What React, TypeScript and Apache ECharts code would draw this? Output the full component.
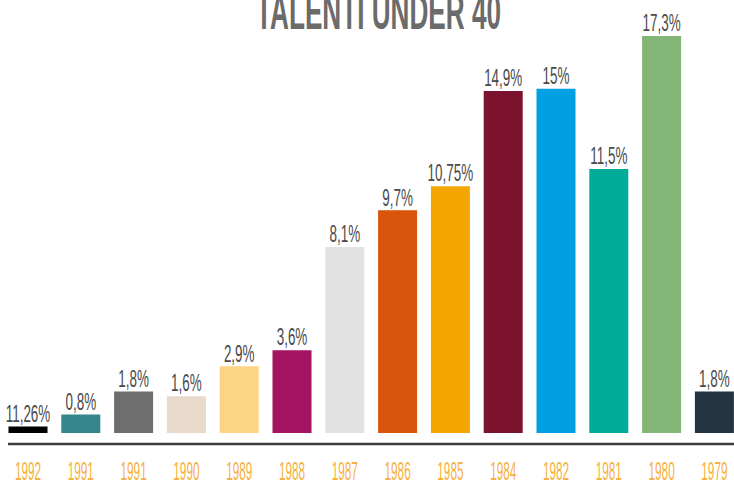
import React, { useEffect, useRef } from "react";
import * as echarts from "echarts";

const years = ["1992", "1991", "1991", "1990", "1989", "1988", "1987", "1986", "1985", "1984", "1982", "1981", "1980", "1979"];
const values = [0.28, 0.8, 1.8, 1.6, 2.9, 3.6, 8.1, 9.7, 10.75, 14.9, 15, 11.5, 17.3, 1.8];
const valueLabels = ["11,26%", "0,8%", "1,8%", "1,6%", "2,9%", "3,6%", "8,1%", "9,7%", "10,75%", "14,9%", "15%", "11,5%", "17,3%", "1,8%"];
const barColors = ["#000000", "#34868c", "#6e6e6e", "#e9d9cb", "#fdd384", "#a31463", "#e2e2e2", "#d8550b", "#f4a600", "#7b132f", "#00a0e2", "#00ac97", "#83b577", "#233442"];
const titleText = "TALENTI UNDER 40";

// inner chart canvas is offset by OY px upward so the cropped layout of the reference can be reproduced
const OY = 20;

export default function App() {
  const ref = useRef<HTMLDivElement>(null);
  useEffect(() => {
    if (!ref.current) return;
    const chart = echarts.init(ref.current, undefined, { renderer: "svg" });
    chart.setOption({
      animation: false,
      backgroundColor: "#ffffff",
      grid: { left: 1.6, width: 739.2, top: -3 + OY, bottom: 43, containLabel: false },
      xAxis: {
        type: "category",
        data: years,
        axisLine: { show: false },
        axisTick: { show: false },
        axisLabel: { show: false },
        splitLine: { show: false },
      },
      yAxis: {
        type: "value",
        min: -0.44,
        max: 19,
        show: false,
        splitLine: { show: false },
      },
      graphic: [
        {
          type: "text",
          x: 378.5,
          y: 36.6 + OY,
          scaleX: 0.523,
          style: {
            text: titleText,
            font: "bold 50px 'Liberation Sans', Arial, sans-serif",
            fill: "#6b6b6b",
            align: "center",
            textAlign: "center",
            verticalAlign: "bottom",
            textVerticalAlign: "bottom",
          },
        },
        {
          type: "line",
          shape: { x1: 8, y1: 444 + OY, x2: 760, y2: 444 + OY },
          style: { stroke: "#3d3d3d", lineWidth: 2.6 },
        },
      ],
      series: [
        {
          type: "bar",
          barWidth: 39,
          data: values.map((v, i) => ({ value: v, itemStyle: { color: barColors[i] } })),
        },
        {
          type: "custom",
          clip: false,
          data: values.map((v, i) => [i, v]),
          renderItem: (params: any, api: any) => {
            const idx = api.value(0);
            const p = api.coord([idx, api.value(1)]);
            return {
              type: "text",
              x: p[0],
              y: p[1] - 1.5,
              scaleX: 0.56,
              style: {
                text: valueLabels[idx],
                font: "24px 'Liberation Sans', Arial, sans-serif",
                fill: "#4a4a4a",
                align: "center",
                textAlign: "center",
                verticalAlign: "bottom",
                textVerticalAlign: "bottom",
              },
            };
          },
        },
        {
          type: "custom",
          clip: false,
          data: years.map((y, i) => [i, 0]),
          renderItem: (params: any, api: any) => {
            const idx = api.value(0);
            const p = api.coord([idx, 0]);
            return {
              type: "text",
              x: p[0],
              y: p[1] + 38.5,
              scaleX: 0.47,
              style: {
                text: years[idx],
                font: "25px 'Liberation Sans', Arial, sans-serif",
                fill: "#f7b13e",
                align: "center",
                textAlign: "center",
                verticalAlign: "middle",
                textVerticalAlign: "middle",
              },
            };
          },
        },
      ],
    });
    return () => chart.dispose();
  }, []);
  return (
    <div
      style={{ position: "absolute", left: 0, top: 0, width: 734, height: 486, overflow: "hidden", background: "#fff" }}
    >
      <div
        ref={ref}
        style={{ position: "absolute", left: 0, top: -OY, width: 760, height: 486 + OY }}
      />
    </div>
  );
}
